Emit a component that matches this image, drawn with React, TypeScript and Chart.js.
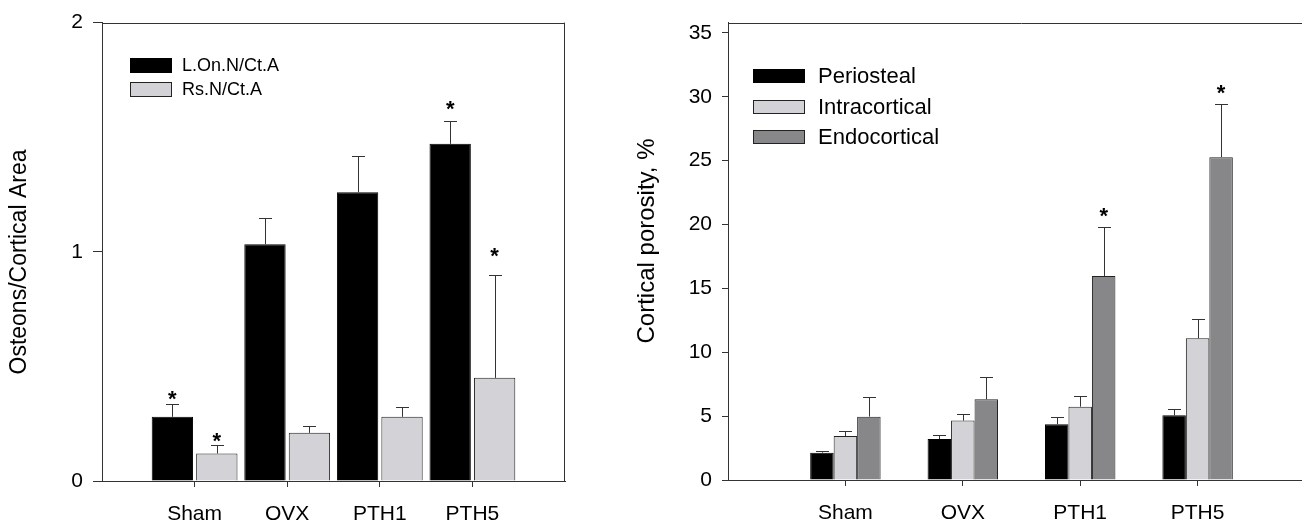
import React, { useEffect, useRef } from 'react';
import { Chart, registerables } from 'chart.js';

Chart.register(...registerables);

const FONT = "'Liberation Sans', Arial, Helvetica, sans-serif";
const AXIS = '#333333';
const BLACK = '#000000';
const LIGHT = 'rgb(211,211,215)';
const DARK = 'rgb(135,135,137)';
const EDGE = '#222222';

const categories = ['Sham', 'OVX', 'PTH1', 'PTH5'];

// left panel
const leftTitle = 'Osteons/Cortical Area';
const lonLabel = 'L.On.N/Ct.A';
const lonValues = [0.28, 1.033, 1.26, 1.471];
const lonErrors = [0.058, 0.116, 0.16, 0.099];
const lonStarLevels = [0.383, null, null, 1.647];
const rsLabel = 'Rs.N/Ct.A';
const rsValues = [0.12, 0.21, 0.28, 0.45];
const rsErrors = [0.037, 0.03, 0.041, 0.448];
const rsStarLevels = [0.2, null, null, 1.006];
const leftTicks = [0, 1, 2];

// right panel
const rightTitle = 'Cortical porosity, %';
const periLabel = 'Periosteal';
const periValues = [2.14, 3.21, 4.36, 5.06];
const periErrors = [0.16, 0.34, 0.54, 0.47];
const intraLabel = 'Intracortical';
const intraValues = [3.44, 4.65, 5.74, 11.09];
const intraErrors = [0.4, 0.55, 0.84, 1.54];
const endoLabel = 'Endocortical';
const endoValues = [4.96, 6.32, 15.97, 25.27];
const endoErrors = [1.54, 1.72, 3.87, 4.17];
const endoStarLevels = [null, null, 21.14, 30.69];
const rightTicks = [0, 5, 10, 15, 20, 25, 30, 35];

const pad = (arr: any[]) => [null, ...arr, null];

const overlay = {
  id: 'overlay',
  afterDatasetsDraw(chart: any, _args: any, opts: any) {
    const { ctx, chartArea: a } = chart;
    const ys = chart.scales.y;
    ctx.save();
    ctx.strokeStyle = AXIS;
    ctx.lineWidth = 1;
    ctx.beginPath();
    const t = Math.round(a.top) + 0.5;
    ctx.moveTo(a.left, t);
    ctx.lineTo(a.right, t);
    if (opts.rightBorder) {
      const r = Math.round(a.right) - 0.5;
      ctx.moveTo(r, a.top);
      ctx.lineTo(r, a.bottom);
    }
    ctx.stroke();

    chart.data.datasets.forEach((ds: any, di: number) => {
      const meta = chart.getDatasetMeta(di);
      meta.data.forEach((bar: any, i: number) => {
        const v = ds.data[i];
        const e = ds.errors ? ds.errors[i] : null;
        if (v == null || e == null) return;
        const x = Math.round(bar.x) + 0.5;
        const y0 = ys.getPixelForValue(v);
        const y1 = Math.round(ys.getPixelForValue(v + e)) + 0.5;
        ctx.strokeStyle = AXIS;
        ctx.beginPath();
        ctx.moveTo(x, y0);
        ctx.lineTo(x, y1);
        ctx.moveTo(x - opts.cap / 2, y1);
        ctx.lineTo(x + opts.cap / 2, y1);
        ctx.stroke();
        const s = ds.stars ? ds.stars[i] : null;
        if (s != null) {
          ctx.fillStyle = '#000';
          ctx.font = `bold ${opts.starSize}px ${FONT}`;
          ctx.textAlign = 'center';
          ctx.textBaseline = 'alphabetic';
          ctx.fillText('*', bar.x, ys.getPixelForValue(s) + opts.starSize * 0.573);
        }
      });
    });

    const L = opts.legend;
    chart.data.datasets.forEach((ds: any, di: number) => {
      const cy = L.y + di * L.rowH;
      ctx.fillStyle = ds.backgroundColor;
      ctx.fillRect(L.x, Math.round(cy - L.boxH / 2), L.boxW, L.boxH);
      ctx.strokeStyle = ds.borderColor;
      ctx.strokeRect(L.x + 0.5, Math.round(cy - L.boxH / 2) + 0.5, L.boxW - 1, L.boxH - 1);
      ctx.fillStyle = '#000';
      ctx.font = `${L.fontSize}px ${FONT}`;
      ctx.textAlign = 'left';
      ctx.textBaseline = 'middle';
      ctx.fillText(ds.label, L.textX, cy + 1);
    });

    const T = opts.title;
    ctx.translate(T.x, T.y);
    ctx.rotate(-Math.PI / 2);
    ctx.fillStyle = '#000';
    ctx.font = `${T.fontSize}px ${FONT}`;
    ctx.textAlign = 'center';
    ctx.textBaseline = 'middle';
    ctx.fillText(T.text, 0, 0);
    ctx.restore();
  },
};

function makeConfig(p: any) {
  const nLabels = p.labels.length;
  return {
    type: 'bar',
    data: { labels: p.labels, datasets: p.datasets },
    options: {
      responsive: false,
      animation: false,
      devicePixelRatio: 1,
      layout: { padding: p.padding },
      plugins: {
        legend: { display: false },
        tooltip: { enabled: false },
        overlay: p.overlay,
      },
      scales: {
        x: {
          type: 'category',
          offset: false,
          grid: {
            offset: false,
            drawOnChartArea: false,
            tickLength: 6,
            lineWidth: 1,
            color: (c: any) => (c.index === 0 || c.index === nLabels - 1 ? 'rgba(0,0,0,0)' : AXIS),
          },
          border: { color: AXIS, width: 1 },
          ticks: {
            font: { family: FONT, size: 21 },
            color: '#000',
            padding: 15,
            autoSkip: false,
            maxRotation: 0,
          },
          afterFit: (s: any) => {
            s.height = p.xHeight;
          },
        },
        y: {
          min: 0,
          max: p.yMax,
          afterBuildTicks: (s: any) => {
            s.ticks = p.yTicks.map((v: number) => ({ value: v }));
          },
          grid: { drawOnChartArea: false, tickLength: p.yTickLength, color: AXIS, lineWidth: 1 },
          border: { color: AXIS, width: 1 },
          ticks: { font: { family: FONT, size: 21 }, color: '#000', padding: 10 },
          title: { display: false },
          afterFit: (s: any) => {
            s.width = p.yWidth;
          },
        },
      },
    },
    plugins: [overlay],
  };
}

function leftConfig() {
  const common = { borderWidth: 1, borderSkipped: 'start', categoryPercentage: 0.96, barPercentage: 0.93 };
  return makeConfig({
    labels: pad(categories).map((v) => v ?? ''),
    datasets: [
      { label: lonLabel, data: pad(lonValues), errors: pad(lonErrors), stars: pad(lonStarLevels), backgroundColor: BLACK, borderColor: BLACK, ...common },
      { label: rsLabel, data: pad(rsValues), errors: pad(rsErrors), stars: pad(rsStarLevels), backgroundColor: LIGHT, borderColor: EDGE, ...common },
    ],
    padding: { left: 0, right: 75, top: 22, bottom: 0 },
    xHeight: 45,
    yWidth: 102,
    yMax: 2,
    yTicks: leftTicks,
    yTickLength: 9,
    overlay: {
      rightBorder: true,
      cap: 13,
      starSize: 22,
      title: { text: leftTitle, x: 20, y: 262, fontSize: 23 },
      legend: { x: 130, y: 65.5, rowH: 23.5, boxW: 42, boxH: 15, textX: 182, fontSize: 18 },
    },
  });
}

function rightConfig() {
  const common = { borderWidth: 1, borderSkipped: 'start', categoryPercentage: 0.6, barPercentage: 1.0 };
  return makeConfig({
    labels: pad(categories).map((v) => v ?? ''),
    datasets: [
      { label: periLabel, data: pad(periValues), errors: pad(periErrors), backgroundColor: BLACK, borderColor: BLACK, ...common },
      { label: intraLabel, data: pad(intraValues), errors: pad(intraErrors), backgroundColor: LIGHT, borderColor: EDGE, ...common },
      { label: endoLabel, data: pad(endoValues), errors: pad(endoErrors), stars: pad(endoStarLevels), backgroundColor: DARK, borderColor: EDGE, ...common },
    ],
    padding: { left: 0, right: 25, top: 22, bottom: 0 },
    xHeight: 46,
    yWidth: 108,
    yMax: 35.8,
    yTicks: rightTicks,
    yTickLength: 6,
    overlay: {
      rightBorder: false,
      cap: 13,
      starSize: 22,
      title: { text: rightTitle, x: 27, y: 241, fontSize: 24 },
      legend: { x: 133, y: 76, rowH: 30.5, boxW: 52, boxH: 14, textX: 198, fontSize: 22 },
    },
  });
}

function Panel({ make, left, width, height }: any) {
  const ref = useRef<HTMLCanvasElement | null>(null);
  useEffect(() => {
    const chart = new Chart(ref.current as HTMLCanvasElement, make() as any);
    return () => chart.destroy();
  }, []);
  return (
    <canvas
      ref={ref}
      width={width}
      height={height}
      style={{ position: 'absolute', left, top: 0, width, height, display: 'block' }}
    />
  );
}

export default function App() {
  return (
    <div
      style={{
        position: 'fixed',
        left: 0,
        top: 0,
        width: 1302,
        height: 526,
        overflow: 'hidden',
        background: '#fff',
      }}
    >
      <Panel make={leftConfig} left={0} width={640} height={526} />
      <Panel make={rightConfig} left={620} width={720} height={526} />
    </div>
  );
}
